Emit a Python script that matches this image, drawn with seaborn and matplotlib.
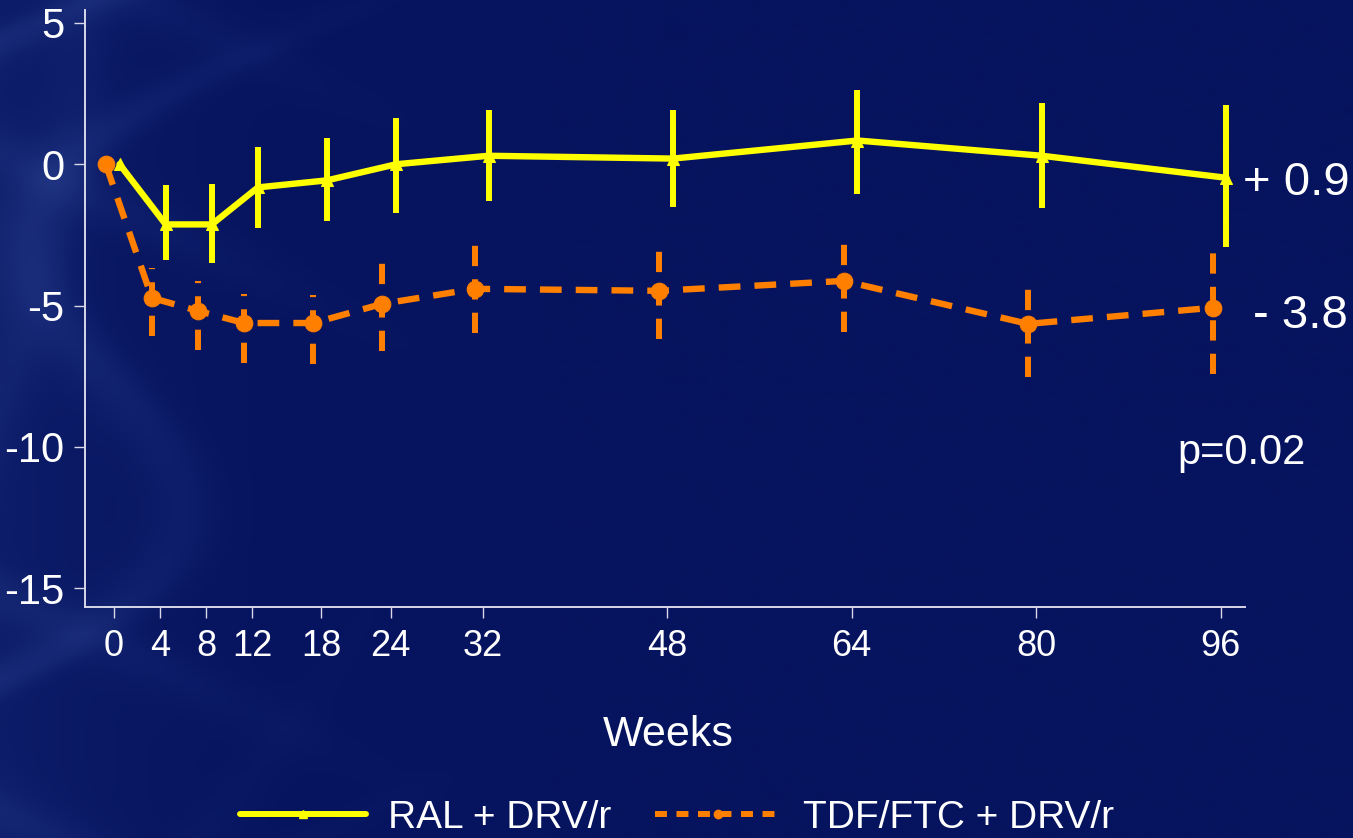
import numpy as np
import matplotlib
matplotlib.use("Agg")
import matplotlib.pyplot as plt
from matplotlib.lines import Line2D
import seaborn as sns
import pandas as pd

# Change from baseline by study week, two treatment arms
weeks = [0, 4, 8, 12, 18, 24, 32, 48, 64, 80, 96]
week_labels = ["0", "4", "8", "12", "18", "24", "32", "48", "64", "80", "96"]

ral_mean = [0.0, -2.13, -2.13, -0.82, -0.57, 0.0, 0.30, 0.20, 0.84, 0.30, -0.48]
ral_upper = [np.nan, -0.74, -0.71, 0.62, 0.94, 1.65, 1.93, 1.93, 2.64, 2.18, 2.08]
ral_lower = [np.nan, -3.38, -3.49, -2.25, -2.0, -1.72, -1.29, -1.50, -1.04, -1.54, -2.92]

tdf_mean = [0.0, -4.73, -5.19, -5.62, -5.62, -4.94, -4.41, -4.48, -4.13, -5.65, -5.08]
tdf_upper = [np.nan, -3.67, -4.13, -4.59, -4.63, -3.31, -2.82, -2.82, -2.57, -4.16, -3.14]
tdf_lower = [np.nan, -6.08, -6.58, -7.04, -7.08, -6.61, -5.97, -6.18, -5.94, -7.53, -7.43]

arm_names = ["RAL + DRV/r", "TDF/FTC + DRV/r"]
end_labels = ["+ 0.9", "- 3.8"]
p_label = "p=0.02"

BG = "#06135e"
YELLOW = "#ffff00"
ORANGE = "#ff7f00"
AXIS = "#d8d8e8"

sns.set_style("ticks")
plt.rcParams["font.family"] = ["Liberation Sans", "DejaVu Sans"]
plt.rcParams["axes.unicode_minus"] = False

fig = plt.figure(figsize=(13.53, 8.38), dpi=100)
fig.patch.set_facecolor(BG)

# soft textured backdrop, lighter towards the left edge
bg_ax = fig.add_axes([0, 0, 1, 1], zorder=-10)
h, w = 419, 677
yy, xx = np.mgrid[0:h, 0:w]
u = xx / w
v = yy / h
ridges = (
    np.exp(-((np.sin(9 * u + 4 * v + 1.3 * np.sin(7 * v)) - 0.6) ** 2) / 0.04)
    + 0.7 * np.exp(-((np.sin(6 * u - 8 * v + 2.0) - 0.5) ** 2) / 0.05)
    + 0.5 * np.exp(-((np.cos(11 * u + 3 * v * v + 0.5) - 0.4) ** 2) / 0.06)
)
fade = np.clip(1 - u / 0.40, 0, 1) ** 1.4
glow = np.clip(1 - u / 0.25, 0, 1) ** 1.5 * 0.18
strength = fade * (0.26 * ridges) + glow
base = np.array([6, 19, 94]) / 255
light = np.array([45, 70, 150]) / 255
img = base + np.clip(strength, 0, 1)[..., None] * (light - base)
bg_ax.imshow(img, aspect="auto", extent=[0, 1, 0, 1], origin="upper")
bg_ax.set_axis_off()

ax = fig.add_axes([0.0628, 0.2757, 0.8573, 0.7124])
ax.patch.set_alpha(0)

df = pd.DataFrame({
    "week": weeks * 2,
    "change": ral_mean + tdf_mean,
    "upper": ral_upper + tdf_upper,
    "lower": ral_lower + tdf_lower,
    "arm": [arm_names[0]] * len(weeks) + [arm_names[1]] * len(weeks),
})
shift = {arm_names[0]: 0.5, arm_names[1]: -0.7}
df["xpos"] = df["week"] + df["arm"].map(shift)

ral = df[df["arm"] == arm_names[0]]
tdf = df[df["arm"] == arm_names[1]]

# error bars
ax.vlines(ral["xpos"], ral["lower"], ral["upper"], color=YELLOW, lw=4.3, zorder=3)
ax.vlines(tdf["xpos"], tdf["lower"], tdf["upper"], color=ORANGE, lw=4.3,
          linestyles=[(0, (3.4, 2.2))], zorder=3)

sns.lineplot(data=ral, x="xpos", y="change", color=YELLOW, lw=4.6, marker="^",
             markersize=9, markeredgecolor=YELLOW, ax=ax, zorder=4, legend=False)
sns.lineplot(data=tdf, x="xpos", y="change", color=ORANGE, lw=4.6, marker="o",
             markersize=12, markeredgecolor=ORANGE, ax=ax, zorder=4, legend=False)
for line in ax.lines[1:]:
    line.set_dashes((3.4, 2.2))

ax.set_xlim(-2.5, 98.1)
ax.set_ylim(-15.67, 5.46)
ax.set_xticks(weeks)
ax.set_xticklabels(week_labels)
ax.set_yticks([5, 0, -5, -10, -15])
ax.set_yticklabels(["5", "0", "-5", "-10", "-15"])
ax.set_xlabel("")
ax.set_ylabel("")

for side in ["top", "right"]:
    ax.spines[side].set_visible(False)
for side in ["left", "bottom"]:
    ax.spines[side].set_color(AXIS)
    ax.spines[side].set_linewidth(1.4)
ax.tick_params(axis="x", colors=AXIS, labelcolor="white", labelsize=26,
               length=8, width=1.0, pad=8, direction="out")
ax.tick_params(axis="y", colors=AXIS, labelcolor="white", labelsize=30,
               length=8, width=1.0, pad=7, direction="out")

fig.text(668 / 1353, 1 - 746 / 838, "Weeks", color="white", fontsize=31,
         ha="center", va="baseline")
fig.text(1243 / 1353, 1 - 195 / 838, end_labels[0], color="white", fontsize=34,
         ha="left", va="baseline")
fig.text(1253 / 1353, 1 - 328 / 838, end_labels[1], color="white", fontsize=34,
         ha="left", va="baseline")
fig.text(1177 / 1353, 1 - 464 / 838, p_label, color="white", fontsize=30,
         ha="left", va="baseline")

handles = [
    Line2D([], [], color=YELLOW, lw=4.3, marker="^", markersize=6),
    Line2D([], [], color=ORANGE, lw=4.3, marker="o", markersize=6,
           dashes=(2.0, 1.6)),
]
fig.legend(handles, arm_names, loc="center", bbox_to_anchor=(677 / 1353, 1 - 818 / 838),
           ncol=2, frameon=False, fontsize=28, labelcolor="white",
           handlelength=3.24, handletextpad=0.57, columnspacing=1.1)

fig.savefig("out.png", dpi=100, facecolor=BG)
